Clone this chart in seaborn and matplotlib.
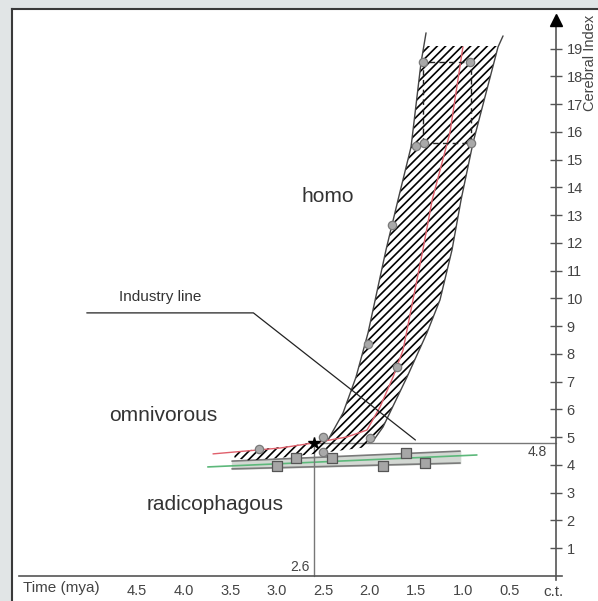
import numpy as np
import matplotlib
matplotlib.use("Agg")
import matplotlib.pyplot as plt
import seaborn as sns
from matplotlib.patches import Polygon, Rectangle

sns.set_theme(style="white")
plt.rcParams["font.family"] = ["Liberation Sans", "DejaVu Sans"]
plt.rcParams["hatch.linewidth"] = 1.2
plt.rcParams["hatch.color"] = "black"

# --- values (time in mya, cerebral index) ---

# homo band edges, bottom to top
band_left_t = [2.449, 2.288, 2.148, 2.019, 1.826, 1.697, 1.557, 1.450, 1.396]
band_left_v = [4.90, 5.87, 7.17, 8.76, 11.75, 13.55, 15.46, 18.49, 19.57]
band_right_t = [1.966, 1.858, 1.600, 1.386, 1.246, 1.117, 1.020, 0.892, 0.623, 0.569]
band_right_v = [4.86, 5.37, 7.17, 8.76, 9.95, 11.75, 13.55, 15.60, 19.06, 19.46]
hatch_top = 19.1

# hatched tail going left (omnivorous stage)
tail_top_t = [2.61, 2.857, 3.18, 3.47]
tail_top_v = [4.83, 4.68, 4.58, 4.47]
tail_bottom_t = [3.45, 3.29, 2.857, 2.43, 2.02]
tail_bottom_v = [4.25, 4.16, 4.29, 4.47, 4.65]

# red trend line inside the band
red_t = [3.684, 2.965, 2.61, 2.245, 2.03, 1.89, 1.75, 1.643, 1.536, 1.43, 1.33, 1.14, 1.0]
red_v = [4.40, 4.61, 4.79, 5.01, 5.26, 6.09, 7.17, 8.14, 9.95, 11.75, 13.55, 15.96, 19.06]

# radicophagous band
green_t = [3.74, 0.85]
green_v = [3.93, 4.36]
grey_t = [3.48, 1.03]
grey_top_v = [4.14, 4.50]
grey_bottom_v = [3.86, 4.07]

square_t = [3.0, 2.79, 2.41, 1.61, 1.86, 1.41]
square_v = [3.96, 4.25, 4.25, 4.43, 3.96, 4.07]

circle_t = [3.19, 2.50, 2.50, 2.0, 2.02, 1.71, 1.76, 1.43, 0.92, 1.50, 1.42, 0.91]
circle_v = [4.58, 5.01, 4.47, 4.97, 8.36, 7.53, 12.65, 18.52, 18.52, 15.50, 15.60, 15.60]

# dashed box around the recent homo points
box_t = [1.43, 0.91]
box_v = [15.60, 18.52]

# industry line
industry_t = [5.04, 3.25, 1.51]
industry_v = [9.48, 9.48, 4.90]

# start of industry
start_t = 2.6
start_v = 4.8

x_ticks = [4.5, 4.0, 3.5, 3.0, 2.5, 2.0, 1.5, 1.0, 0.5]
x_labels = ["4.5", "4.0", "3.5", "3.0", "2.5", "2.0", "1.5", "1.0", "0.5"]
y_ticks = list(range(1, 20))

# --- figure ---
fig = plt.figure(figsize=(5.98, 6.01), dpi=100, facecolor="#e1e5e6")
ax = fig.add_axes([12 / 598, 0, 586 / 598, 592 / 601])
ax.set_facecolor("white")
ax.set_xlim(5.843, -0.451)
ax.set_ylim(-0.901, 20.43)

# frame on top and left, axes through zero
for side in ["top", "left"]:
    ax.spines[side].set_color("#3a3a3a")
    ax.spines[side].set_linewidth(1.5)
ax.spines["bottom"].set_position(("data", 0))
ax.spines["right"].set_position(("data", 0))
ax.spines["bottom"].set_bounds(-0.06, 5.77)
ax.spines["right"].set_bounds(-0.15, 20.0)
for side in ["bottom", "right"]:
    ax.spines[side].set_color("#555555")
    ax.spines[side].set_linewidth(1.2)

ax.yaxis.tick_right()
ax.set_yticks(y_ticks)
ax.set_xticks(x_ticks)
ax.set_xticklabels(x_labels)
ax.tick_params(axis="both", direction="inout", length=9, width=1, color="#555555",
               labelcolor="#444444", labelsize=10.5)
ax.tick_params(axis="y", pad=3)
ax.tick_params(axis="x", pad=1)
ax.plot(0, 20.05, marker="^", color="black", markersize=8, clip_on=False, zorder=6)

# grey shaded radicophagous band
ax.fill_between(grey_t, grey_top_v, grey_bottom_v, color="#d3d8d3", zorder=1)
sns.lineplot(x=grey_t, y=grey_top_v, color="#7a7a7a", linewidth=1.2, ax=ax, zorder=2)
sns.lineplot(x=grey_t, y=grey_bottom_v, color="#7a7a7a", linewidth=1.2, ax=ax, zorder=2)
sns.lineplot(x=green_t, y=green_v, color="#5cb87a", linewidth=1.2, ax=ax, zorder=2)

# hatched homo band with its tail
poly_t = band_left_t[::-1] + tail_top_t + tail_bottom_t + band_right_t
poly_v = band_left_v[::-1] + tail_top_v + tail_bottom_v + band_right_v
band = Polygon(np.column_stack([poly_t, poly_v]), closed=True, facecolor="none",
               edgecolor="black", linewidth=0, hatch="////", zorder=3)
ax.add_patch(band)
clip = Rectangle((-1, -1), 8, hatch_top + 1, transform=ax.transData)
band.set_clip_path(clip)
sns.lineplot(x=band_left_t, y=band_left_v, sort=False, estimator=None,
             color="#444444", linewidth=1.0, ax=ax, zorder=3)
sns.lineplot(x=band_right_t, y=band_right_v, sort=False, estimator=None,
             color="#444444", linewidth=1.0, ax=ax, zorder=3)

sns.lineplot(x=red_t, y=red_v, sort=False, estimator=None,
             color="#e0606c", linewidth=1.0, ax=ax, zorder=4)

# reference lines for 2.6 mya / 4.8
ax.plot([start_t, 0], [start_v, start_v], color="#777777", linewidth=1.0, zorder=2)
ax.plot([start_t, start_t], [start_v, 0], color="#777777", linewidth=1.0, zorder=2)

# industry line
sns.lineplot(x=industry_t, y=industry_v, sort=False, estimator=None,
             color="#222222", linewidth=0.9, ax=ax, zorder=4)

# dashed box
ax.plot([box_t[0], box_t[1], box_t[1], box_t[0], box_t[0]],
        [box_v[0], box_v[0], box_v[1], box_v[1], box_v[0]],
        color="#222222", linewidth=1.0, linestyle=(0, (4, 3)), zorder=4)

sns.scatterplot(x=square_t, y=square_v, marker="s", s=42, color="#a6a6a6",
                edgecolor="#555555", linewidth=0.9, ax=ax, zorder=5)
sns.scatterplot(x=circle_t, y=circle_v, marker="o", s=36, color="#a9a9a9",
                edgecolor="#7a7a7a", linewidth=0.9, ax=ax, zorder=5)
ax.plot(start_t, start_v, marker="*", color="black", markersize=9, zorder=6)

# texts
txt = "#333333"
ax.text(2.449, 13.69, "homo", fontsize=15, color=txt, ha="center", va="center")
ax.text(4.221, 5.80, "omnivorous", fontsize=15, color=txt, ha="center", va="center")
ax.text(3.663, 2.56, "radicophagous", fontsize=15, color=txt, ha="center", va="center")
ax.text(4.253, 10.05, "Industry line", fontsize=11, color=txt, ha="center", va="center")
ax.text(2.75, 0.32, "2.6", fontsize=10, color="#444444", ha="center", va="center")
ax.text(0.204, 4.47, "4.8", fontsize=10, color="#444444", ha="center", va="center")
ax.text(5.317, -0.43, "Time (mya)", fontsize=11, color="#444444", ha="center", va="center")
ax.text(0.03, -0.58, "c.t.", fontsize=11, color="#444444", ha="center", va="center")
ax.text(-0.36, 18.48, "Cerebral Index", fontsize=10.5, color="#444444", rotation=90,
        ha="center", va="center", clip_on=False)

fig.savefig("out.png", dpi=100, facecolor=fig.get_facecolor())
